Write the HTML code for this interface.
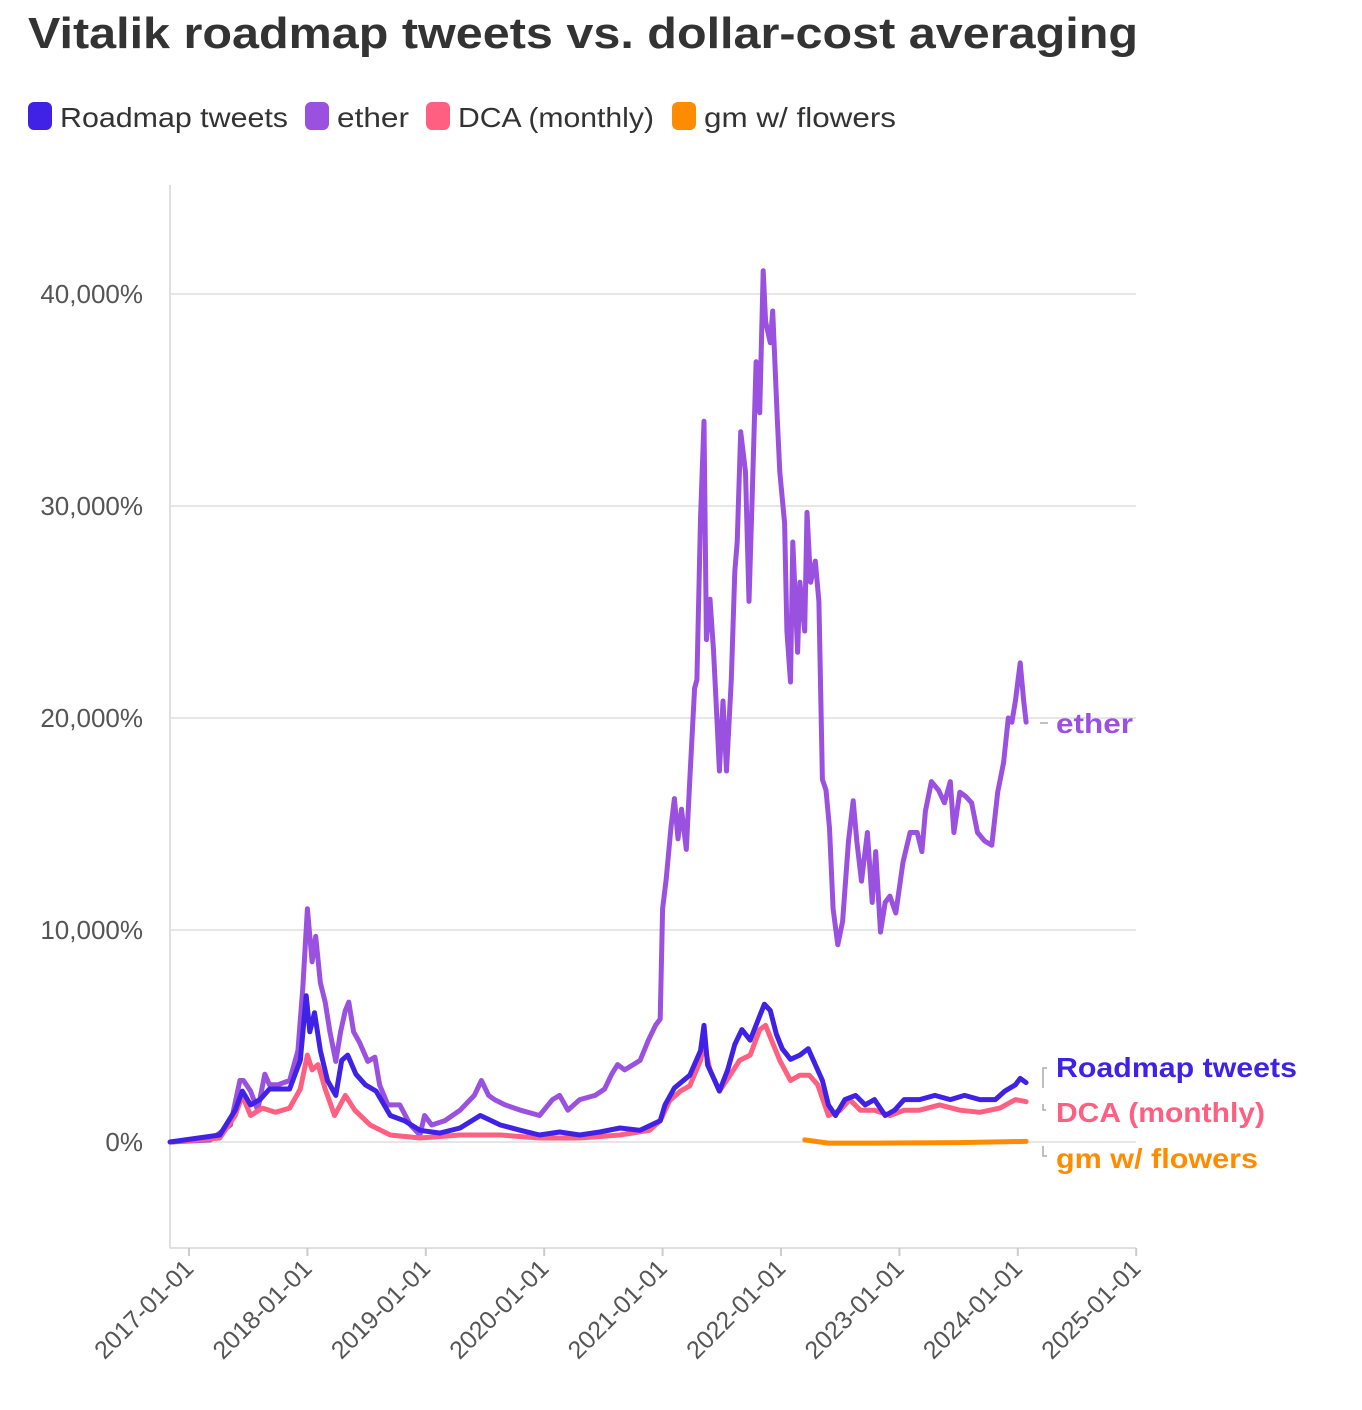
<!DOCTYPE html>
<html><head><meta charset="utf-8"><style>
html,body{margin:0;padding:0;background:#fff;}
svg{display:block;font-family:"Liberation Sans",sans-serif;}
</style></head><body>
<svg id="chart" width="1362" height="1410" viewBox="0 0 1362 1410" xmlns="http://www.w3.org/2000/svg">
<text x="28" y="48" font-size="44" font-weight="bold" fill="#333" textLength="1110" lengthAdjust="spacingAndGlyphs">Vitalik roadmap tweets vs. dollar-cost averaging</text>
<g font-size="28" fill="#333">
<g><rect x="28" y="102" width="24" height="28" rx="6" fill="#3f22e6"/><text x="60" y="127" textLength="228" lengthAdjust="spacingAndGlyphs">Roadmap tweets</text></g>
<g><rect x="305" y="102" width="24" height="28" rx="6" fill="#9b51e0"/><text x="337" y="127" textLength="72" lengthAdjust="spacingAndGlyphs">ether</text></g>
<g><rect x="426" y="102" width="24" height="28" rx="6" fill="#ff5f80"/><text x="458" y="127" textLength="196" lengthAdjust="spacingAndGlyphs">DCA (monthly)</text></g>
<g><rect x="672" y="102" width="24" height="28" rx="6" fill="#ff8c00"/><text x="704" y="127" textLength="192" lengthAdjust="spacingAndGlyphs">gm w/ flowers</text></g>
</g>
<g id="grid"></g>
<g id="yaxis"></g>
<g id="xaxis"></g>
<g id="series"></g>
<g id="labels"></g>
</svg>
<script>
const yTicks = [0, 10000, 20000, 30000, 40000];
const yTickLabels = ["0%", "10,000%", "20,000%", "30,000%", "40,000%"];
const xTicks = [2017, 2018, 2019, 2020, 2021, 2022, 2023, 2024, 2025];
const xTickLabels = ["2017-01-01","2018-01-01","2019-01-01","2020-01-01","2021-01-01","2022-01-01","2023-01-01","2024-01-01","2025-01-01"];

const etherDates = [2016.84,2017.18,2017.35,2017.43,2017.46,2017.52,2017.58,2017.64,2017.68,2017.75,2017.85,2017.92,2017.96,2018.00,2018.04,2018.07,2018.11,2018.15,2018.19,2018.24,2018.28,2018.32,2018.35,2018.39,2018.44,2018.51,2018.57,2018.61,2018.68,2018.78,2018.87,2018.95,2018.99,2019.05,2019.16,2019.29,2019.41,2019.47,2019.53,2019.58,2019.67,2019.80,2019.96,2020.07,2020.13,2020.20,2020.30,2020.43,2020.51,2020.57,2020.62,2020.68,2020.81,2020.88,2020.94,2020.98,2021.00,2021.03,2021.07,2021.10,2021.13,2021.16,2021.20,2021.23,2021.27,2021.29,2021.32,2021.35,2021.37,2021.40,2021.43,2021.46,2021.48,2021.51,2021.54,2021.58,2021.61,2021.63,2021.66,2021.70,2021.73,2021.76,2021.79,2021.82,2021.85,2021.87,2021.91,2021.93,2021.97,2021.99,2022.03,2022.05,2022.08,2022.10,2022.14,2022.16,2022.20,2022.22,2022.25,2022.29,2022.32,2022.35,2022.38,2022.41,2022.44,2022.48,2022.52,2022.57,2022.61,2022.64,2022.68,2022.73,2022.77,2022.80,2022.84,2022.88,2022.92,2022.97,2023.03,2023.09,2023.15,2023.19,2023.22,2023.27,2023.33,2023.38,2023.43,2023.46,2023.51,2023.56,2023.61,2023.66,2023.72,2023.78,2023.83,2023.88,2023.92,2023.95,2023.98,2024.02,2024.05,2024.07];
const etherValues = [0,94,800,2900,2900,2400,1500,3200,2700,2700,2900,4300,7200,11000,8500,9700,7500,6600,5200,3800,5200,6200,6600,5200,4700,3800,4000,2700,1750,1750,800,330,1250,800,1000,1500,2200,2900,2200,2000,1750,1500,1250,2000,2200,1500,2000,2200,2500,3200,3650,3400,3850,4800,5500,5800,11000,12400,14800,16200,14300,15700,13800,17100,21400,21800,29400,34000,23700,25600,23200,19800,17500,20800,17500,21800,26900,28300,33500,31600,25500,31100,36800,34400,41100,38700,37700,39200,34000,31600,29200,24100,21700,28300,23100,26400,24100,29700,26400,27400,25500,17100,16600,14800,11000,9300,10400,14200,16100,14200,12300,14600,11300,13700,9900,11300,11600,10800,13200,14600,14600,13700,15600,17000,16600,16000,17000,14600,16500,16300,16000,14600,14200,14000,16500,17900,20000,19800,20800,22600,20800,19800];

const roadmapDates = [2016.84,2017.26,2017.39,2017.45,2017.52,2017.60,2017.68,2017.85,2017.94,2017.99,2018.02,2018.06,2018.11,2018.17,2018.24,2018.29,2018.34,2018.41,2018.49,2018.58,2018.70,2018.82,2018.95,2019.12,2019.29,2019.46,2019.63,2019.80,2019.96,2020.13,2020.30,2020.47,2020.64,2020.81,2020.98,2021.02,2021.10,2021.23,2021.32,2021.35,2021.38,2021.44,2021.48,2021.55,2021.61,2021.67,2021.74,2021.81,2021.86,2021.91,2021.96,2022.01,2022.08,2022.16,2022.23,2022.29,2022.35,2022.40,2022.46,2022.54,2022.63,2022.71,2022.79,2022.88,2022.96,2023.04,2023.17,2023.30,2023.43,2023.55,2023.68,2023.81,2023.89,2023.98,2024.02,2024.07];
const roadmapValues = [0,330,1500,2400,1750,2000,2500,2500,3850,6900,5200,6100,4300,2900,2200,3850,4100,3200,2700,2400,1250,1000,550,420,660,1250,800,550,330,470,330,470,660,550,1000,1750,2550,3150,4300,5500,3630,2900,2400,3400,4600,5300,4800,5800,6500,6200,5100,4400,3900,4100,4400,3650,2900,1750,1250,2000,2200,1750,2000,1250,1500,2000,2000,2200,2000,2200,2000,2000,2400,2700,3000,2800];

const dcaDates = [2016.84,2017.26,2017.39,2017.45,2017.52,2017.62,2017.73,2017.85,2017.94,2018.00,2018.04,2018.09,2018.15,2018.23,2018.32,2018.40,2018.53,2018.70,2018.95,2019.29,2019.63,2019.96,2020.30,2020.64,2020.89,2020.98,2021.06,2021.15,2021.23,2021.32,2021.35,2021.40,2021.48,2021.57,2021.65,2021.74,2021.82,2021.87,2021.92,2021.99,2022.08,2022.16,2022.24,2022.31,2022.40,2022.50,2022.58,2022.67,2022.79,2022.92,2023.04,2023.17,2023.34,2023.51,2023.68,2023.85,2023.98,2024.07];
const dcaValues = [0,190,1250,2200,1250,1600,1400,1600,2500,4100,3400,3650,2500,1250,2200,1500,800,330,190,330,330,190,190,330,550,1000,1950,2400,2650,3850,4600,3400,2400,3150,3850,4100,5300,5500,4800,3850,2900,3150,3150,2700,1250,1500,2000,1500,1500,1250,1500,1500,1750,1500,1400,1600,2000,1900];

const gmDates = [2022.20,2022.40,2022.80,2023.50,2024.07];
const gmValues = [100,-50,-50,-30,30];

const NS = "http://www.w3.org/2000/svg";
const X0 = 189, XPY = 118.4, Y0 = 1142, YPU = 212/10000;
function xScale(t){ return X0 + (t-2017)*XPY; }
function yScale(v){ return Y0 - v*YPU; }
function mk(tag, attrs, parent){ const e=document.createElementNS(NS,tag); for(const k in attrs) e.setAttribute(k,attrs[k]); parent.appendChild(e); return e; }

const grid=document.getElementById('grid'), yax=document.getElementById('yaxis'), xax=document.getElementById('xaxis');
yTicks.forEach((v,i)=>{
  const l=mk('line',{x1:170,x2:1136,y1:yScale(v),y2:yScale(v),stroke:'#e6e6e6','stroke-width':2},grid);
  
  
  const t=mk('text',{x:143,y:yScale(v)+9,'text-anchor':'end','font-size':26,fill:'#555'},yax);
  t.textContent=yTickLabels[i];
  
  
});
const ax=mk('line',{x1:170,x2:170,y1:185,y2:1248,stroke:'#e0e0e0','stroke-width':2},yax);


const bx=mk('line',{x1:170,x2:1136,y1:1248,y2:1248,stroke:'#e0e0e0','stroke-width':2},xax);


xTicks.forEach((t,i)=>{
  const x=xScale(t);
  const tk=mk('line',{x1:x,x2:x,y1:1248,y2:1256,stroke:'#ccc','stroke-width':2},xax);
  
  
  const tx=mk('text',{x:x+6,y:1270,'text-anchor':'end','font-size':25,fill:'#555',transform:`rotate(-45 ${x+6} 1270)`},xax);
  tx.textContent=xTickLabels[i];
  
  
});

const ser=document.getElementById('series');
function line(dates,vals,color,name){
  const d=dates.map((t,i)=>(i?'L':'M')+xScale(t).toFixed(1)+' '+yScale(vals[i]).toFixed(1)).join(' ');
  const p=mk('path',{d:d,fill:'none',stroke:color,'stroke-width':5,'stroke-linejoin':'round','stroke-linecap':'round'},ser);
  
  
}
line(etherDates,etherValues,'#9b51e0','ether-line');
line(dcaDates,dcaValues,'#ff5f80','dca-line');
line(roadmapDates,roadmapValues,'#3f22e6','roadmap-tweets-line');
line(gmDates,gmValues,'#ff8c00','gm-flowers-line');

const lab=document.getElementById('labels');
function label(text,y,color,name,conn,w){
  mk('path',{d:conn,fill:'none',stroke:'#aaa','stroke-width':1.5},lab);
  const t=mk('text',{x:1056,y:y+10,'font-size':28,'font-weight':'bold',fill:color,textLength:w,lengthAdjust:'spacingAndGlyphs'},lab);
  t.textContent=text;
  
  
}
label('ether',723,'#9b51e0','ether-label','M1040 723 H1048',77);
label('Roadmap tweets',1067,'#3f22e6','roadmap-tweets-label','M1043 1088 V1068 H1047',241);
label('DCA (monthly)',1112,'#ff5f80','dca-label','M1043 1104 V1110 H1046',209);
label('gm w/ flowers',1158,'#ff8c00','gm-flowers-label','M1043 1146 V1156 H1047',202);
</script>
</body></html>
